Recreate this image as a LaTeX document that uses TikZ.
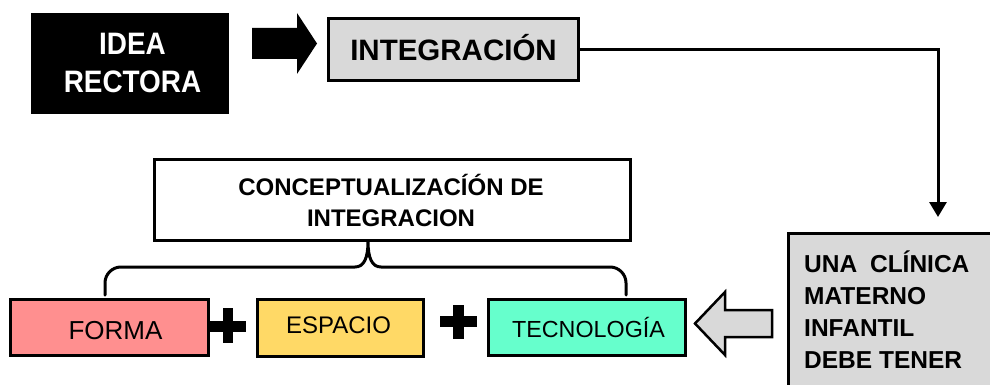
\documentclass[tikz,border=0pt]{standalone}
\usepackage{fontspec}
\setmainfont{Liberation Sans}
\usetikzlibrary{arrows.meta}
\definecolor{boxgray}{RGB}{217,217,217}
\definecolor{formacol}{RGB}{255,143,143}
\definecolor{espaciocol}{RGB}{255,217,102}
\definecolor{tecnocol}{RGB}{102,255,204}
\tikzset{
  px/.style={x=1pt,y=-1pt},
  box/.style={draw=black,line width=3pt,rectangle,inner sep=0pt},
  boldtxt/.style={font=\bfseries,inner sep=0pt,align=center},
  plaintxt/.style={inner sep=0pt},
  plusbar/.style={line width=10.5pt,black},
  link/.style={line width=3pt,black},
}
\begin{document}
\begin{tikzpicture}[px]
\useasboundingbox (0,0) rectangle (990,385);
% IDEA RECTORA
\node[rectangle,fill=black,minimum width=198pt,minimum height=101pt,inner sep=0pt] (idea) at (130,63.5) {};
\node[boldtxt,text=white,xscale=0.9,font=\fontsize{31}{37.5}\selectfont\bfseries] (ideatxt) at (132.5,63) {IDEA\\RECTORA};
% big black arrow
\fill[black] (252,28) -- (297,28) -- (297,13) -- (317,43.5) -- (297,74) -- (297,59) -- (252,59) -- cycle;
% INTEGRACION
\node[box,fill=boxgray,minimum width=250pt,minimum height=62pt] (integ) at (453.5,49.5) {};
\node[boldtxt,font=\fontsize{29.5}{30}\selectfont\bfseries] (integtxt) at (453.5,48) {INTEGRACIÓN};
% UNA CLINICA box (cut by the page edge)
\fill[boxgray] (788.5,233.5) rectangle (995,390);
\draw[line width=3pt] (788.5,390) -- (788.5,233.5) -- (995,233.5);
\node[anchor=north west,inner sep=0pt,align=left,font=\fontsize{24.5}{32}\selectfont\bfseries] (clintxt) at (804,251) {UNA\hspace{6pt} CLÍNICA\\MATERNO\\INFANTIL\\DEBE TENER};
% connector integracion -> clinica
\coordinate (turn) at (938,49.5);
\coordinate (tip) at (938,217);
\draw[link,-{Triangle[width=17pt,length=15pt]}] (integ.east) -- (turn) -- (tip);
% hollow arrow
\draw[fill=boxgray,line width=2.5pt,line join=miter] (772,310) -- (725,310) -- (725,292) -- (695,323.5) -- (725,355) -- (725,337) -- (772,337) -- cycle;
% concept box
\node[box,fill=white,minimum width=476pt,minimum height=81pt] (concept) at (392.5,200) {};
\node[boldtxt,font=\fontsize{24}{31}\selectfont\bfseries] (concepttxt) at (391,200.5) {CONCEPTUALIZACÍÓN DE\\INTEGRACION};
% colored boxes
\node[box,fill=formacol,minimum width=198pt,minimum height=56pt] (forma) at (109.5,327.5) {};
\node[plaintxt,font=\fontsize{26}{27}\selectfont] (formatxt) at (115.5,331) {FORMA};
\node[box,fill=espaciocol,minimum width=166pt,minimum height=57pt] (espacio) at (340.5,328) {};
\node[plaintxt,font=\fontsize{24}{25}\selectfont] (espaciotxt) at (338.5,325) {ESPACIO};
\node[box,fill=tecnocol,minimum width=197pt,minimum height=56pt] (tecno) at (587,327.5) {};
\node[plaintxt,font=\fontsize{23.3}{25}\selectfont] (tecnotxt) at (588.5,327.5) {TECNOLOGÍA};
% plus signs
\draw[plusbar] (210,326.5) -- (246,326.5);
\draw[plusbar] (228,308) -- (228,343);
\draw[plusbar] (440,321.5) -- (477,321.5);
\draw[plusbar] (458.5,305) -- (458.5,339);
% brace
\coordinate (bl) at (105,295);
\coordinate (br) at (626,295);
\coordinate (bmid) at (368,241.5);
\draw[link,line cap=round] (bl) -- (105,283) arc[start angle=180,end angle=90,radius=16pt] -- (355,267)
  .. controls (364,267) and (368,258) .. (bmid)
  .. controls (368,258) and (372,267) .. (381,267) -- (610,267)
  arc[start angle=90,end angle=0,radius=16pt] -- (br);
\end{tikzpicture}
\end{document}
